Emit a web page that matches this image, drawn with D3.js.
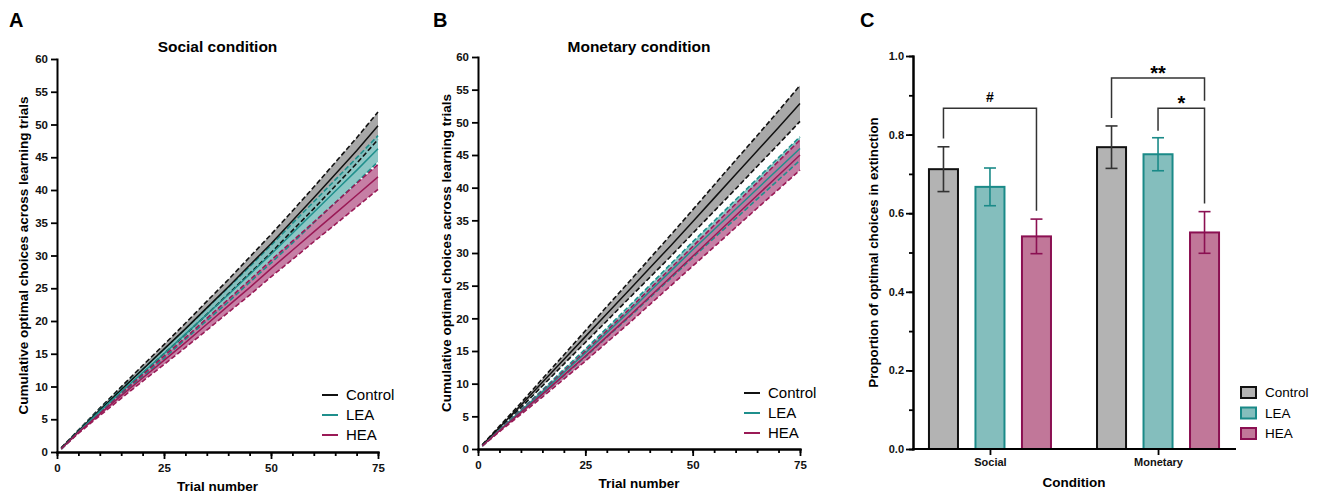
<!DOCTYPE html>
<html>
<head>
<meta charset="utf-8">
<script src="https://cdn.jsdelivr.net/npm/d3@7"></script>
<style>
body{margin:0;background:#fff;}
svg{font-family:"Liberation Sans",Arial,sans-serif;}
</style>
</head>
<body>
<svg id="fig" width="1320" height="493"></svg>
<script>
// trials (every 5th trial)
const trials = [1,5,10,15,20,25,30,35,40,45,50,55,60,65,70,75];

const socialControl    = [0.6,3.2,6.4,9.5,12.6,15.7,18.8,22.0,25.2,28.5,31.8,35.3,38.8,42.4,46.0,49.8];
const socialControlSem = [0.05,0.15,0.3,0.45,0.6,0.7,0.85,1.0,1.1,1.25,1.4,1.5,1.65,1.8,1.95,2.1];
const socialLEA        = [0.5,3.1,6.2,9.2,12.1,15.0,18.0,21.0,24.0,27.1,30.2,33.4,36.6,39.8,43.0,46.3];
const socialLEASem     = [0.05,0.15,0.3,0.4,0.55,0.7,0.8,0.95,1.1,1.2,1.35,1.5,1.6,1.75,1.9,2.0];
const socialHEA        = [0.5,3.0,5.8,8.6,11.3,14.0,16.7,19.5,22.3,25.1,28.0,30.8,33.6,36.4,39.2,42.0];
const socialHEASem     = [0.05,0.15,0.25,0.4,0.5,0.65,0.75,0.9,1.0,1.15,1.25,1.4,1.5,1.65,1.8,1.9];

const monetaryControl    = [0.6,3.3,6.7,10.2,13.7,17.2,20.7,24.2,27.7,31.2,34.8,38.4,42.0,45.6,49.2,52.9];
const monetaryControlSem = [0.05,0.2,0.35,0.55,0.7,0.9,1.1,1.25,1.45,1.65,1.8,2.0,2.2,2.35,2.55,2.75];
const monetaryLEA        = [0.5,2.9,5.8,8.7,11.7,14.7,17.8,20.9,24.1,27.3,30.5,33.6,36.7,39.8,42.9,46.0];
const monetaryLEASem     = [0.05,0.1,0.25,0.35,0.5,0.6,0.7,0.85,0.95,1.1,1.2,1.3,1.45,1.55,1.7,1.8];
const monetaryHEA        = [0.5,2.8,5.6,8.4,11.3,14.2,17.2,20.2,23.3,26.4,29.5,32.6,35.7,38.8,41.9,45.0];
const monetaryHEASem     = [0.05,0.15,0.3,0.45,0.6,0.75,0.9,1.05,1.2,1.35,1.5,1.65,1.8,1.95,2.15,2.3];

const yTicksCum = [0,5,10,15,20,25,30,35,40,45,50,55,60];
const xTicksMajor = [0,25,50,75];

// panel C
const conditions = ["Social","Monetary"];
const groups = ["Control","LEA","HEA"];
const socialMeans   = [0.712,0.667,0.541];
const socialErr     = [0.057,0.048,0.044];
const monetaryMeans = [0.768,0.750,0.551];
const monetaryErr   = [0.054,0.042,0.053];
const brackets = [
  {cond:"Social",   from:"Control", to:"HEA", left:0.79,  top:0.867, right:0.606, label:"#"},
  {cond:"Monetary", from:"Control", to:"HEA", left:0.842, top:0.944, right:0.886, label:"**"},
  {cond:"Monetary", from:"LEA",     to:"HEA", left:0.81,  top:0.867, right:0.625, label:"*"}
];

const lineCol = {Control:"#111111", LEA:"#1f8f8c", HEA:"#9a1a56"};
const bandCol = {Control:"#9e9e9e", LEA:"#7fc1bf", HEA:"#c0719b"};
const barFill = {Control:"#b3b3b3", LEA:"#84bebd", HEA:"#c17799"};
const barStroke = {Control:"#111111", LEA:"#1a8a88", HEA:"#8b1052"};

var svg = d3.select('#fig');

var styleAxis = function(g, fs){
    g.select('.domain').attr('stroke','#000').attr('stroke-width',2).attr('stroke-linecap','square');
    g.selectAll('.tick line').attr('stroke','#000').attr('stroke-width',1.8);
    g.selectAll('.tick text').attr('font-size',fs).attr('font-weight','bold')
        .attr('fill','#111').attr('font-family','"Liberation Sans",Arial,sans-serif');
};

var drawCumulative = function(p){
    var x = d3.scaleLinear().domain([0,75]).range([p.left,p.right]);
    var y = d3.scaleLinear().domain([0,60]).range([p.bottom,p.top]);
    var g = svg.append('g');

    var series = groups.map(function(name,i){
        return {name:name, mean:p.means[i], sem:p.sems[i]};
    });
    var area = function(s){
        return d3.area()
            .x(function(d,i){return x(trials[i]);})
            .y0(function(d,i){return y(d - s.sem[i]);})
            .y1(function(d,i){return y(d + s.sem[i]);})(s.mean);
    };
    var line = function(vals){
        return d3.line().x(function(d,i){return x(trials[i]);}).y(function(d){return y(d);})(vals);
    };
    series.forEach(function(s){
        g.append('path').attr('d',area(s)).attr('fill',bandCol[s.name]).attr('fill-opacity',0.9);
    });
    series.forEach(function(s){
        [1,-1].forEach(function(sign){
            var vals = s.mean.map(function(d,i){return d + sign*s.sem[i];});
            g.append('path').attr('d',line(vals)).attr('fill','none')
                .attr('stroke',lineCol[s.name]).attr('stroke-width',1.6)
                .attr('stroke-dasharray','5,2.5');
        });
    });
    series.forEach(function(s){
        g.append('path').attr('d',line(s.mean)).attr('fill','none')
            .attr('stroke',lineCol[s.name]).attr('stroke-width',1.5);
    });

    // axes
    var ya = g.append('g').attr('transform','translate('+p.left+',0)')
        .call(d3.axisLeft(y).tickValues(yTicksCum).tickSize(6).tickSizeOuter(0).tickPadding(3));
    styleAxis(ya,11.5);
    var xm = g.append('g').attr('transform','translate(0,'+p.bottom+')')
        .call(d3.axisBottom(x).tickValues(d3.range(0,76,5)).tickSize(4).tickSizeOuter(0).tickFormat(''));
    styleAxis(xm,11.5);
    var xa = g.append('g').attr('transform','translate(0,'+p.bottom+')')
        .call(d3.axisBottom(x).tickValues(xTicksMajor).tickSize(7).tickSizeOuter(0).tickPadding(5));
    styleAxis(xa,11.5);

    // texts
    g.append('text').attr('x',(p.left+p.right)/2).attr('y',52).attr('text-anchor','middle')
        .attr('font-size',15.5).attr('font-weight','bold').text(p.title);
    g.append('text').attr('x',p.letterX).attr('y',27)
        .attr('font-size',20).attr('font-weight','bold').text(p.letter);
    g.append('text').attr('transform','translate('+p.yTitleX+','+((p.top+p.bottom)/2+0)+') rotate(-90)')
        .attr('text-anchor','middle').attr('font-size',13.5).attr('font-weight','bold')
        .text('Cumulative optimal choices across learning trials');
    g.append('text').attr('x',(p.left+p.right)/2).attr('y',p.xTitleY).attr('text-anchor','middle')
        .attr('font-size',13.5).attr('font-weight','bold').text('Trial number');

    // legend
    groups.forEach(function(name,i){
        var ly = p.legendY + i*20;
        g.append('line').attr('x1',p.legendX).attr('x2',p.legendX+16)
            .attr('y1',ly).attr('y2',ly).attr('stroke',lineCol[name]).attr('stroke-width',2);
        g.append('text').attr('x',p.legendX+24).attr('y',ly).attr('dy','0.35em')
            .attr('font-size',15).text(name);
    });
};

drawCumulative({
    left:57, right:378, top:59, bottom:452,
    title:'Social condition', letter:'A', letterX:9, yTitleX:28, xTitleY:491,
    legendX:322, legendY:395,
    means:[socialControl,socialLEA,socialHEA],
    sems:[socialControlSem,socialLEASem,socialHEASem]
});
drawCumulative({
    left:478, right:800, top:57, bottom:449,
    title:'Monetary condition', letter:'B', letterX:433, yTitleX:451, xTitleY:488,
    legendX:744, legendY:393,
    means:[monetaryControl,monetaryLEA,monetaryHEA],
    sems:[monetaryControlSem,monetaryLEASem,monetaryHEASem]
});

// ---- panel C: bars ----
(function(){
    var left = 913, right = 1235, top = 56, bottom = 449;
    var g = svg.append('g');
    var x0 = d3.scalePoint().domain(conditions).range([left,right]).padding(0.458);
    var x1 = d3.scaleBand().domain(groups).range([-69.75,69.75]).paddingInner(0.376).paddingOuter(0.188);
    var y = d3.scaleLinear().domain([0,1]).range([bottom,top]);
    var bw = x1.bandwidth();
    var rows = [];
    conditions.forEach(function(c,ci){
        var m = ci===0 ? socialMeans : monetaryMeans;
        var e = ci===0 ? socialErr : monetaryErr;
        groups.forEach(function(gr,gi){
            rows.push({cond:c, group:gr, mean:m[gi], err:e[gi]});
        });
    });
    var cx = function(c,gr){return x0(c) + x1(gr) + bw/2;};

    g.selectAll('rect.bar').data(rows).enter().append('rect')
        .attr('class','bar')
        .attr('x',function(d){return x0(d.cond)+x1(d.group);})
        .attr('width',bw)
        .attr('y',function(d){return y(d.mean);})
        .attr('height',function(d){return bottom - y(d.mean);})
        .attr('fill',function(d){return barFill[d.group];})
        .attr('stroke',function(d){return barStroke[d.group];})
        .attr('stroke-width',2);

    // error bars
    rows.forEach(function(d){
        var c = cx(d.cond,d.group);
        var col = d.group==='Control' ? '#333' : barStroke[d.group];
        g.append('line').attr('x1',c).attr('x2',c)
            .attr('y1',y(d.mean+d.err)).attr('y2',y(d.mean-d.err))
            .attr('stroke',col).attr('stroke-width',1.6);
        [d.mean+d.err, d.mean-d.err].forEach(function(v){
            g.append('line').attr('x1',c-6).attr('x2',c+6)
                .attr('y1',y(v)).attr('y2',y(v)).attr('stroke',col).attr('stroke-width',1.6);
        });
    });

    // significance brackets
    brackets.forEach(function(b){
        var xa = cx(b.cond,b.from), xb = cx(b.cond,b.to);
        g.append('path')
            .attr('d','M'+xa+','+y(b.left)+'V'+y(b.top)+'H'+xb+'V'+y(b.right))
            .attr('fill','none').attr('stroke','#333').attr('stroke-width',1.5);
        var dy = b.label==='#' ? -6 : 2;
        g.append('text').attr('x',(xa+xb)/2).attr('y',y(b.top)+dy)
            .attr('text-anchor','middle').attr('font-weight','bold')
            .attr('font-size',b.label==='#' ? 14 : 20).text(b.label);
    });

    // axes
    var ym = g.append('g').attr('transform','translate('+left+',0)')
        .call(d3.axisLeft(y).tickValues(d3.range(0,1.01,0.1)).tickSize(4).tickSizeOuter(0).tickFormat(''));
    styleAxis(ym,11);
    var ya = g.append('g').attr('transform','translate('+left+',0)')
        .call(d3.axisLeft(y).tickValues([0,0.2,0.4,0.6,0.8,1.0]).tickSize(7).tickSizeOuter(0)
            .tickPadding(2).tickFormat(d3.format('.1f')));
    styleAxis(ya,11);
    var xa = g.append('g').attr('transform','translate(0,'+bottom+')')
        .call(d3.axisBottom(x0).tickSize(6).tickSizeOuter(0).tickPadding(3));
    xa.select('.domain').attr('d','M'+left+',0H'+right);
    styleAxis(xa,11);

    g.append('text').attr('x',860).attr('y',27).attr('font-size',20).attr('font-weight','bold').text('C');
    g.append('text').attr('transform','translate(878,252.5) rotate(-90)')
        .attr('text-anchor','middle').attr('font-size',13.3).attr('font-weight','bold')
        .text('Proportion of optimal choices in extinction');
    g.append('text').attr('x',1074).attr('y',487).attr('text-anchor','middle')
        .attr('font-size',13.5).attr('font-weight','bold').text('Condition');

    groups.forEach(function(name,i){
        var ly = 392.5 + i*20.5;
        g.append('rect').attr('x',1241).attr('y',ly-5.5).attr('width',15).attr('height',11)
            .attr('fill',barFill[name]).attr('stroke',barStroke[name]).attr('stroke-width',2);
        g.append('text').attr('x',1265).attr('y',ly).attr('dy','0.35em')
            .attr('font-size',13.5).text(name);
    });
})();
</script>
</body>
</html>
